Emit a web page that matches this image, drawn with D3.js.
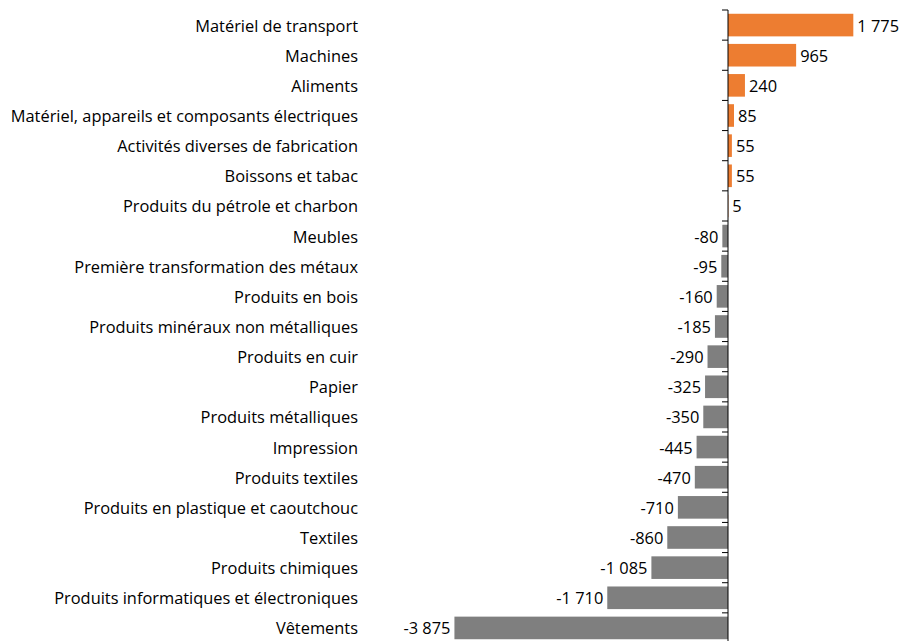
<!DOCTYPE html>
<html>
<head>
<meta charset="utf-8">
<script src="https://cdn.jsdelivr.net/npm/d3@7"></script>
<style>
  body { margin: 0; background: #fff; }
  text { font-family: "Open Sans", sans-serif; fill: #000; }
</style>
</head>
<body>
<script>
// categories, top to bottom
var categories = [
  "Matériel de transport", "Machines", "Aliments",
  "Matériel, appareils et composants électriques",
  "Activités diverses de fabrication", "Boissons et tabac",
  "Produits du pétrole et charbon", "Meubles",
  "Première transformation des métaux", "Produits en bois",
  "Produits minéraux non métalliques", "Produits en cuir", "Papier",
  "Produits métalliques", "Impression", "Produits textiles",
  "Produits en plastique et caoutchouc", "Textiles",
  "Produits chimiques", "Produits informatiques et électroniques",
  "Vêtements"
];
var values = [1775, 965, 240, 85, 55, 55, 5, -80, -95, -160, -185, -290,
  -325, -350, -445, -470, -710, -860, -1085, -1710, -3875];

var width = 917, height = 641;

var svg = d3.select('body').append('svg')
  .attr('width', width)
  .attr('height', height);

// value scale: zero sits at x = 728
var x = d3.scaleLinear()
  .domain([-4000, 2000])
  .range([445.6, 869.2]);

var y = d3.scaleBand()
  .domain(categories)
  .range([10, 643])
  .paddingInner(0.25)
  .paddingOuter(0.125);

// thousands separated by a space, as in the original
var fmt = function(v) {
  var s = d3.format(',')(Math.abs(v)).replace(/,/g, ' ');
  return (v < 0 ? '-' : '') + s;
};

// bars
svg.selectAll('rect.bar')
  .data(values)
  .enter().append('rect')
  .attr('class', 'bar')
  .attr('x', function(d) { return x(Math.min(0, d)); })
  .attr('y', function(d, i) { return y(categories[i]); })
  .attr('width', function(d) { return Math.abs(x(d) - x(0)); })
  .attr('height', y.bandwidth())
  .attr('fill', function(d) { return d >= 0 ? '#ED7D31' : '#7F7F7F'; });

// value labels
svg.selectAll('text.val')
  .data(values)
  .enter().append('text')
  .attr('class', 'val')
  .attr('x', function(d) { return d >= 0 ? x(d) + 4 : x(d) - 4; })
  .attr('y', function(d, i) { return y(categories[i]) + y.bandwidth() / 2; })
  .attr('dy', '0.4em')
  .attr('text-anchor', function(d) { return d >= 0 ? 'start' : 'end'; })
  .style('font-size', '16.4px')
  .text(fmt);

// category labels on the left
svg.selectAll('text.cat')
  .data(categories)
  .enter().append('text')
  .attr('class', 'cat')
  .attr('x', 358)
  .attr('y', function(d) { return y(d) + y.bandwidth() / 2; })
  .attr('dy', '0.4em')
  .attr('text-anchor', 'end')
  .style('font-size', '16.4px')
  .text(function(d) { return d; });

// zero axis with ticks between categories
var step = y.step();
var tickYs = d3.range(categories.length + 1).map(function(i) { return 10 + i * step; });
svg.append('line')
  .attr('x1', x(0)).attr('x2', x(0))
  .attr('y1', 10).attr('y2', height)
  .attr('stroke', '#000').attr('stroke-width', 1);
svg.selectAll('line.tick')
  .data(tickYs)
  .enter().append('line')
  .attr('class', 'tick')
  .attr('x1', x(0) - 6).attr('x2', x(0))
  .attr('y1', function(d) { return d; })
  .attr('y2', function(d) { return d; })
  .attr('stroke', '#000').attr('stroke-width', 1);
</script>
</body>
</html>
